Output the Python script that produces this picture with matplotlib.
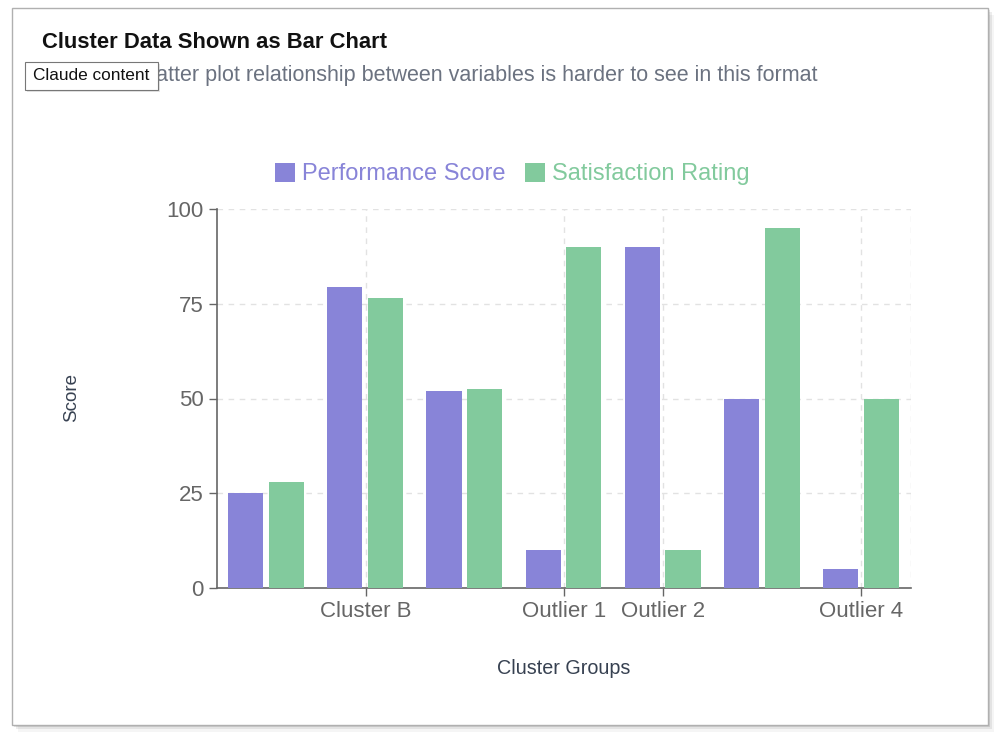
import numpy as np
import matplotlib.pyplot as plt
from matplotlib.patches import Rectangle

plt.rcParams['font.family'] = ['Liberation Sans', 'DejaVu Sans']

categories = ['Cluster A', 'Cluster B', 'Cluster C', 'Outlier 1', 'Outlier 2', 'Outlier 3', 'Outlier 4']
shown_labels = ['Cluster B', 'Outlier 1', 'Outlier 2', 'Outlier 4']
performance = [25, 79.5, 52, 10, 90, 50, 5]
satisfaction = [28, 76.5, 52.5, 90, 10, 95, 50]
y_ticks = [0, 25, 50, 75, 100]

perf_color = '#8884d8'
sat_color = '#82ca9d'
axis_color = '#666666'

fig = plt.figure(figsize=(10, 7.41), dpi=100)

# card with a soft shadow
for i, a in enumerate([0.10, 0.07, 0.04]):
    fig.patches.append(Rectangle((0.012 + 0.002 * (i + 1), 0.0216 - 0.003 * (i + 1)), 0.976, 0.9676,
                                 transform=fig.transFigure, facecolor='black', alpha=a,
                                 edgecolor='none', zorder=0))
fig.patches.append(Rectangle((0.012, 0.0216), 0.976, 0.9676, transform=fig.transFigure,
                             facecolor='white', edgecolor='#b0b0b0', lw=1, zorder=1))

fig.text(0.042, 1 - 42 / 741, 'Cluster Data Shown as Bar Chart', fontsize=15.8, fontweight='bold',
         color='#111111', va='center', ha='left', zorder=3)
fig.text(0.131, 1 - 76 / 741, 'Scatter plot relationship between variables is harder to see in this format',
         fontsize=15.5, color='#6b7280', va='center', ha='left', zorder=3)

# "Claude content" tooltip box sits on top of the subtitle
fig.patches.append(Rectangle((0.027, 1 - 92 / 741), 0.133, 28 / 741, transform=fig.transFigure,
                             facecolor='#999999', alpha=0.25, edgecolor='none', zorder=4))
fig.patches.append(Rectangle((0.025, 1 - 90 / 741), 0.133, 28 / 741, transform=fig.transFigure,
                             facecolor='white', edgecolor='#777777', lw=0.8, zorder=5))
fig.text(0.0915, 1 - 76 / 741, 'Claude content', fontsize=12.4, color='#111111',
         va='center', ha='center', zorder=6)

ax = fig.add_axes([0.217, 1 - 588 / 741, 0.694, (588 - 209) / 741])
ax.set_zorder(2)
ax.patch.set_alpha(0)

x = np.arange(len(categories))
w = 0.355
ax.bar(x - 0.21, performance, w, color=perf_color, label='Performance Score', zorder=3)
ax.bar(x + 0.2, satisfaction, w, color=sat_color, label='Satisfaction Rating', zorder=3)

ax.set_xlim(-0.5, len(categories) - 0.5)
ax.set_ylim(0, 100)

# grid like recharts: dashed, light
shown_pos = [categories.index(c) for c in shown_labels]
for yv in y_ticks[1:]:
    ax.axhline(yv, color='#e2e2e2', lw=1, ls=(0, (4, 4)), zorder=1)
for xv in shown_pos + [len(categories) - 0.5]:
    ax.axvline(xv, color='#e2e2e2', lw=1, ls=(0, (4, 4)), zorder=1)

ax.set_xticks(shown_pos)
ax.set_xticklabels(shown_labels)
ax.set_yticks(y_ticks)
ax.tick_params(axis='both', colors=axis_color, labelsize=16, length=6, width=1)
for s in ['top', 'right']:
    ax.spines[s].set_visible(False)
for s in ['left', 'bottom']:
    ax.spines[s].set_color(axis_color)
    ax.spines[s].set_linewidth(1.2)

fig.text(0.072, 1 - 398 / 741, 'Score', rotation=90, fontsize=13.5, color='#374151',
         va='center', ha='center')
fig.text(0.564, 1 - 669 / 741, 'Cluster Groups', fontsize=14.2, color='#374151',
         va='center', ha='center')

leg = fig.legend(loc='center', bbox_to_anchor=(0.5125, 1 - 174 / 741), ncol=2, frameon=False,
                 fontsize=17, handlelength=0.85, handleheight=0.85, handletextpad=0.3, columnspacing=0.8)
for t, c in zip(leg.get_texts(), [perf_color, sat_color]):
    t.set_color(c)

fig.savefig('out.png', dpi=100)
